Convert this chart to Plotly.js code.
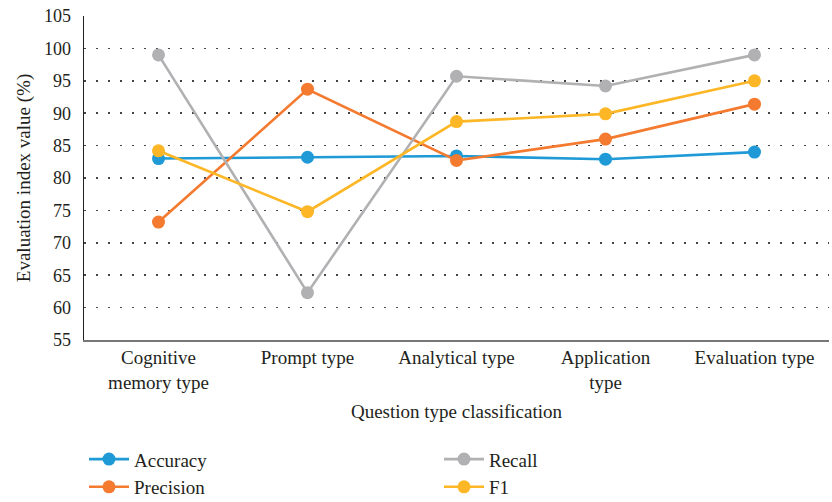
<!DOCTYPE html>
<html>
<head>
<meta charset="utf-8">
<script src="https://cdn.plot.ly/plotly-3.0.1.min.js"></script>
<style>html,body{margin:0;padding:0;background:#fff;}#chart{width:832px;height:502px;}</style>
</head>
<body>
<div id="chart"></div>
<script>
const categories = ["Cognitive<br>memory type", "Prompt type", "Analytical type", "Application<br>type", "Evaluation type"];
const accuracy  = [83.0, 83.2, 83.4, 82.9, 84.0];
const precision = [73.2, 93.7, 82.7, 86.0, 91.4];
const recall    = [99.0, 62.3, 95.7, 94.2, 99.0];
const f1        = [84.2, 74.8, 88.7, 89.9, 95.0];
const yTicks = [55, 60, 65, 70, 75, 80, 85, 90, 95, 100, 105];

const colors = {acc: "#1f9ad6", pre: "#f47a30", rec: "#b1b1b4", f1: "#fdb726"};
function tr(name, y, c, rank) {
  return {
    type: "scatter", mode: "lines+markers", name: name, x: categories, y: y,
    line: {color: c, width: 2.6}, marker: {color: c, size: 13}, legendrank: rank
  };
}
const data = [
  tr("Accuracy", accuracy, colors.acc, 1),
  tr("Precision", precision, colors.pre, 3),
  tr("Recall", recall, colors.rec, 2),
  tr("F1", f1, colors.f1, 4)
];
const fam = "'Liberation Serif', 'Times New Roman', serif";
const font = {family: fam, size: 19, color: "#231f20"};
const numFont = {family: fam, size: 18, color: "#231f20"};
const layout = {
  width: 832, height: 502,
  margin: {l: 84, r: 3, t: 16, b: 162, autoexpand: false},
  paper_bgcolor: "#fff", plot_bgcolor: "#fff",
  font: font,
  showlegend: true,
  xaxis: {
    type: "category", showgrid: false, showline: true, linecolor: "#777", linewidth: 1.5,
    ticks: "", tickfont: font, range: [-0.5, 4.5], automargin: false,
    title: {text: "Question type classification", font: font, standoff: 12}
  },
  yaxis: {
    range: [55, 105], tickvals: yTicks, showgrid: true, gridcolor: "#444",
    griddash: "1.5px,10.5px", gridwidth: 1.5, zeroline: false, automargin: false,
    showline: true, linecolor: "#231f20", linewidth: 1.5, ticks: "", ticklabelstandoff: 8,
    tickfont: numFont,
    title: {text: "Evaluation index value (%)", font: font, standoff: 8}
  },
  legend: {
    orientation: "h", x: 0, xanchor: "left", yref: "container", y: 0.123, yanchor: "top",
    entrywidth: 300, entrywidthmode: "pixels", font: font, itemwidth: 40,
    traceorder: "normal"
  }
};
Plotly.newPlot("chart", data, layout, {staticPlot: true});
</script>
</body>
</html>
